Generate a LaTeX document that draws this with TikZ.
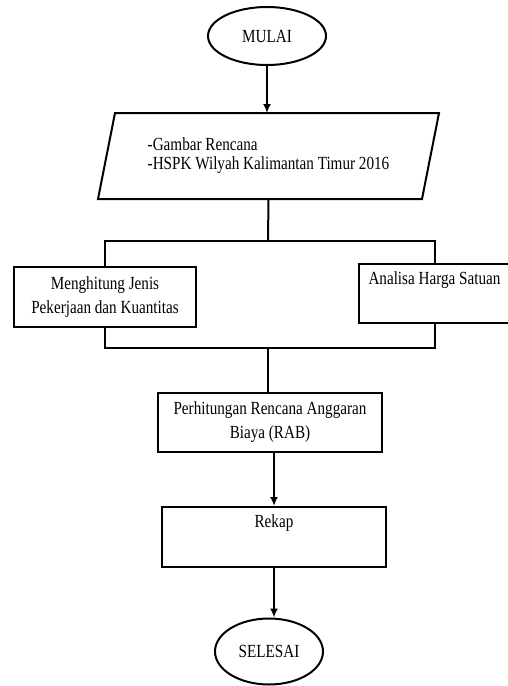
\documentclass[tikz,border=0pt]{standalone}
\usepackage{fontspec}
\setmainfont{Liberation Serif}[FakeStretch=0.82]
\usetikzlibrary{shapes.geometric,arrows.meta}

\begin{document}
\begin{tikzpicture}[x=1pt,y=-1pt,
  every node/.style={font=\fontsize{18.5}{24}\selectfont, line width=2pt},
  term/.style={draw, ellipse, inner sep=0pt},
  procbox/.style={draw, rectangle, inner sep=0pt, align=center},
  link/.style={line width=2pt},
  arr/.style={link, -{Latex[length=9pt,width=8pt]}}]

  \useasboundingbox (0,0) rectangle (507,686);

  % start / end terminals
  \node[term, minimum width=118pt, minimum height=58pt] (mulai) at (267,36) {MULAI};
  \node[term, minimum width=108pt, minimum height=66pt] (selesai) at (269,651.5) {SELESAI};

  % input data (parallelogram drawn around the text node)
  \node[minimum width=322pt, minimum height=84pt, inner sep=0pt, align=left,
        font=\fontsize{18.5}{19}\selectfont] (data) at (268.5,156)
        {-Gambar Rencana\\-HSPK Wilyah Kalimantan Timur 2016};
  \draw[link] ([xshift=8.5pt]data.north west) -- ([xshift=8.5pt]data.north east)
              -- ([xshift=-8.5pt]data.south east) -- ([xshift=-8.5pt]data.south west) -- cycle;

  % parallel processes
  \node[procbox, minimum width=182pt, minimum height=60pt] (hitung) at (105,297)
        {Menghitung Jenis\\Pekerjaan dan Kuantitas};
  \node[procbox, minimum width=151pt, minimum height=59pt] (analisa) at (434.5,293.5)
        {Analisa Harga Satuan\\\strut};

  % following steps
  \node[procbox, minimum width=224pt, minimum height=59pt] (rab) at (270,422.5)
        {Perhitungan Rencana Anggaran\\Biaya (RAB)};
  \node[procbox, minimum width=224pt, minimum height=60pt] (rekap) at (274,537)
        {Rekap\\\strut};

  % connectors
  \coordinate (split) at (268,241);
  \coordinate (merge) at (268,348);

  \draw[arr] (mulai.south) -- (mulai.south |- data.north);
  \draw[link] (data.south) -- (split);
  \draw[link] (hitung.north) |- (split) -| (analisa.north);
  \draw[link] (hitung.south) |- (merge) -| (analisa.south);
  \draw[link] (merge) -- (merge |- rab.north);
  \draw[arr] (rab.south -| rekap.north) -- (rekap.north);
  \draw[arr] (rekap.south) -- (rekap.south |- selesai.north);
\end{tikzpicture}
\end{document}
